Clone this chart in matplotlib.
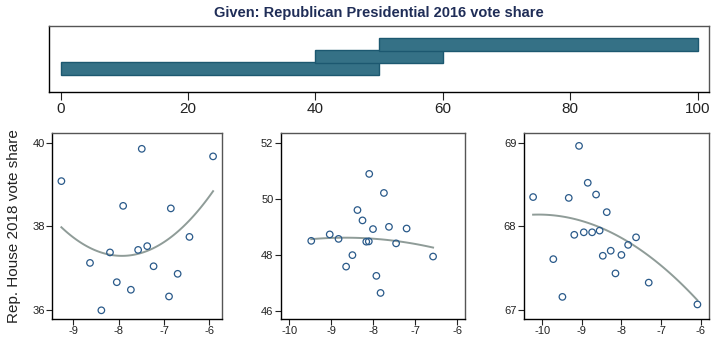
import numpy as np
import matplotlib.pyplot as plt

plt.rcParams['font.family'] = ['Liberation Sans', 'DejaVu Sans']
plt.rcParams['axes.unicode_minus'] = False

# intervals of the conditioning variable (Republican presidential share 2016)
given_low = [0, 40, 50]
given_high = [50, 60, 100]

# panel 1: share 0-50
x1 = [-9.26, -7.49, -5.92, -7.90, -6.85, -6.44, -7.37, -7.57, -8.19, -8.63,
      -7.23, -6.70, -8.04, -7.73, -6.89, -8.38]
y1 = [39.08, 39.85, 39.67, 38.49, 38.43, 37.75, 37.53, 37.44, 37.38, 37.13,
      37.05, 36.87, 36.67, 36.49, 36.33, 36.00]
# quadratic fit: start, middle and end of the fitted curve
fit1_x = [-9.26, -7.75, -5.92]
fit1_y = [37.98, 37.31, 38.84]

# panel 2: share 40-60
x2 = [-9.48, -9.04, -8.83, -8.50, -8.65, -8.38, -8.26, -8.10, -8.01, -8.17,
      -8.11, -7.75, -7.63, -7.46, -7.21, -7.93, -7.83, -6.58]
y2 = [48.49, 48.72, 48.56, 47.98, 47.57, 49.59, 49.22, 50.88, 48.91, 48.46,
      48.47, 50.20, 48.99, 48.40, 48.93, 47.24, 46.63, 47.93]
fit2_x = [-9.48, -8.50, -6.58]
fit2_y = [48.55, 48.60, 48.25]

# panel 3: share 50-100
x3 = [-10.23, -9.07, -9.33, -8.85, -8.64, -8.37, -9.19, -8.95, -8.74, -8.55,
      -9.72, -9.49, -8.47, -8.27, -8.00, -8.15, -7.83, -7.63, -7.31, -6.08]
y3 = [68.35, 68.96, 68.34, 68.52, 68.38, 68.17, 67.90, 67.93, 67.93, 67.95,
      67.61, 67.16, 67.65, 67.71, 67.66, 67.44, 67.78, 67.87, 67.33, 67.07]
fit3_x = [-10.23, -8.55, -6.08]
fit3_y = [68.14, 67.99, 67.12]

panels = [
    (x1, y1, fit1_x, fit1_y, (-9.46, -5.73), (35.80, 40.22),
     [-9, -8, -7, -6], [36, 38, 40]),
    (x2, y2, fit2_x, fit2_y, (-10.2, -5.82), (45.71, 52.33),
     [-10, -9, -8, -7, -6], [46, 48, 50, 52]),
    (x3, y3, fit3_x, fit3_y, (-10.46, -5.78), (66.90, 69.11),
     [-10, -9, -8, -7, -6], [67, 68, 69]),
]

W, H = 712, 337
fig = plt.figure(figsize=(W / 100, H / 100), dpi=100)


def box(l, r, t, b):
    return [l / W, 1 - b / H, (r - l) / W, (b - t) / H]


def frame(ax):
    for side in ['left', 'bottom']:
        ax.spines[side].set_color('black')
        ax.spines[side].set_linewidth(1.0)
    for side in ['top', 'right']:
        ax.spines[side].set_color('#555555')
        ax.spines[side].set_linewidth(1.0)


# given panel on top
axg = fig.add_axes(box(49, 709, 25.5, 92))
ypos = np.arange(1, len(given_low) + 1)
axg.barh(ypos, np.array(given_high) - np.array(given_low), left=given_low,
         height=1.1, color='#357186', edgecolor='#1c5870', linewidth=1.0)
axg.set_xlim(-1.84, 101.8)
axg.set_ylim(-0.97, 4.57)
axg.set_yticks([])
axg.set_xticks([0, 20, 40, 60, 80, 100])
axg.tick_params(axis='x', length=5.5, width=0.8, labelsize=11, pad=1.5,
                colors='#222222')
frame(axg)
fig.text(379 / W, 1 - 13 / H, 'Given: Republican Presidential 2016 vote share',
         ha='center', va='center', fontsize=10.5, fontweight='bold',
         color='#1f2d57')

# dependence panels
lefts = [(52.3, 221.7), (281, 465), (524, 709.3)]
for (x, y, fx, fy, xl, yl, xt, yt), (l, r) in zip(panels, lefts):
    ax = fig.add_axes(box(l, r, 133.3, 318.7))
    ax.scatter(x, y, s=22, facecolors='none', edgecolors='#2a5a8a',
               linewidths=0.9, zorder=3)
    coef = np.polyfit(fx, fy, 2)
    xs = np.linspace(fx[0], fx[-1], 100)
    ax.plot(xs, np.polyval(coef, xs), color='#8f9c98', lw=1.4, zorder=2)
    ax.set_xlim(*xl)
    ax.set_ylim(*yl)
    ax.set_xticks(xt)
    ax.set_yticks(yt)
    ax.tick_params(length=4, width=0.8, labelsize=8, pad=1.5,
                   colors='#222222')
    frame(ax)

fig.text(14 / W, 1 - 226 / H, 'Rep. House 2018 vote share', rotation=90,
         ha='center', va='center', fontsize=11, color='#222222')

fig.savefig('out.png', dpi=100)
